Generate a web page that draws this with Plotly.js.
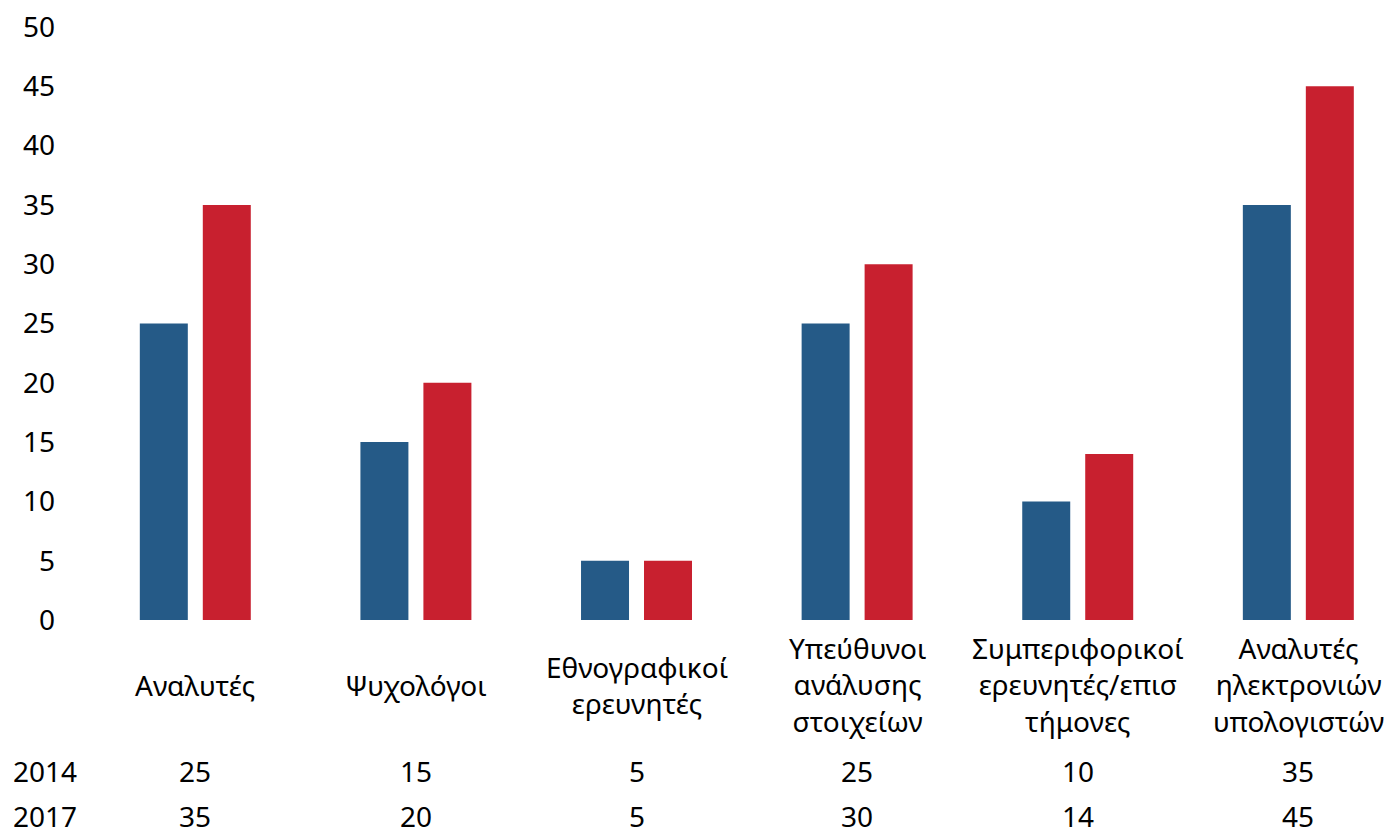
<!DOCTYPE html>
<html>
<head>
<meta charset="utf-8">
<script src="https://cdn.plot.ly/plotly-3.0.1.min.js"></script>
<style>html,body{margin:0;padding:0;background:#fff;}#chart{width:1389px;height:830px;}</style>
</head>
<body>
<div id="chart"></div>
<script>
const categories = ["Αναλυτές", "Ψυχολόγοι", "Εθνογραφικοί<br>ερευνητές", "Υπεύθυνοι<br>ανάλυσης<br>στοιχείων", "Συμπεριφορικοί<br>ερευνητές/επισ<br>τήμονες", "Αναλυτές<br>ηλεκτρονιών<br>υπολογιστών"];
const seriesNames = ["2014", "2017"];
const values2014 = [25, 15, 5, 25, 10, 35];
const values2017 = [35, 20, 5, 30, 14, 45];
const yTicks = [0, 5, 10, 15, 20, 25, 30, 35, 40, 45, 50];

const FONT = '"Noto Sans", "Open Sans", "DejaVu Sans", sans-serif';
const FS = 28;
const colors = ['#255A87', '#C8202F'];

const traces = [values2014, values2017].map((vals, i) => ({
  type: 'bar',
  x: categories,
  y: vals,
  name: seriesNames[i],
  marker: {color: colors[i], line: {width: 0}},
  hoverinfo: 'x+y'
}));

const annotations = [];
categories.forEach((c) => {
  annotations.push({
    x: c, xref: 'x', y: -0.1096, yref: 'paper',
    text: c, showarrow: false, xanchor: 'center', yanchor: 'middle',
    font: {family: FONT, size: FS, color: '#000'}
  });
});
const rowsY = [-0.2546, -0.3305];
[values2014, values2017].forEach((vals, r) => {
  annotations.push({
    x: -0.0307, xref: 'paper', y: rowsY[r], yref: 'paper',
    text: seriesNames[r], showarrow: false, xanchor: 'center', yanchor: 'middle',
    font: {family: FONT, size: FS, color: '#000'}
  });
  vals.forEach((v, i) => {
    annotations.push({
      x: categories[i], xref: 'x', y: rowsY[r], yref: 'paper',
      text: String(v), showarrow: false, xanchor: 'center', yanchor: 'middle',
      font: {family: FONT, size: FS, color: '#000'}
    });
  });
});

const layout = {
  width: 1389, height: 830,
  margin: {l: 85, r: 0, t: 27, b: 210, pad: 0},
  paper_bgcolor: '#fff', plot_bgcolor: '#fff',
  showlegend: false,
  barmode: 'group',
  bargap: 0.429,
  bargroupgap: 0.238,
  font: {family: FONT, size: FS, color: '#000'},
  xaxis: {
    type: 'category',
    range: [-0.5, 5.411],
    showticklabels: false, showgrid: false, zeroline: false, showline: false, ticks: ''
  },
  yaxis: {
    range: [0, 50],
    tickvals: yTicks,
    ticktext: yTicks.map(String),
    showgrid: false, zeroline: false, showline: false, ticks: '',
    ticklabelstandoff: 29,
    tickfont: {family: FONT, size: FS, color: '#000'}
  },
  annotations: annotations
};

Plotly.newPlot('chart', traces, layout, {displayModeBar: false, staticPlot: true});
</script>
</body>
</html>
